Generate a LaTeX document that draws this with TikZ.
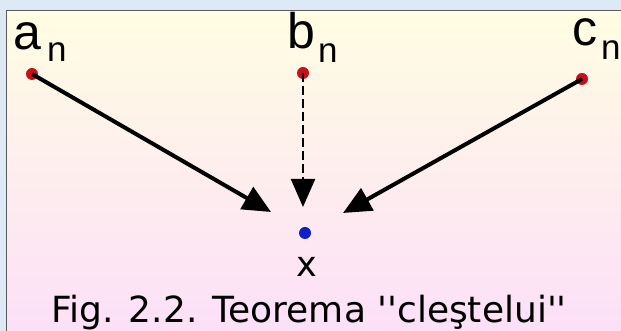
\documentclass[tikz,border=0pt]{standalone}
\usepackage{fontspec}
\setmainfont{Liberation Sans}
\newfontfamily\capfont{DejaVu Sans}
\usetikzlibrary{arrows.meta}
\definecolor{outerbg}{HTML}{DDE9F5}
\definecolor{topcol}{HTML}{FFFDE2}
\definecolor{botcol}{HTML}{FCDFF8}
\definecolor{framecol}{HTML}{5A5A5A}
\definecolor{reddot}{HTML}{C8101A}
\definecolor{bluedot}{HTML}{1020C8}
\tikzset{
  pt/.style={circle,inner sep=0pt,minimum size=12pt},
  redpt/.style={pt,fill=reddot},
  bluept/.style={pt,fill=bluedot},
  biglbl/.style={anchor=base west,inner sep=0pt,font=\fontsize{50}{50}\selectfont},
  sublbl/.style={anchor=base west,inner sep=0pt,font=\fontsize{35}{35}\selectfont},
  conv/.style={line width=4pt,-{Triangle[length=28pt,width=25pt]}},
  convd/.style={line width=2.2pt,dash pattern=on 9pt off 4pt,-{Triangle[length=28pt,width=24pt]}}
}
\begin{document}
\begin{tikzpicture}[x=1pt,y=1pt]
\useasboundingbox (0,0) rectangle (621,331);
\fill[outerbg] (0,0) rectangle (621,331);
\shade[top color=topcol,bottom color=botcol] (6.5,-5) rectangle (630,320.5);
\draw[framecol,line width=1.6pt] (6.5,-5) -- (6.5,320.5) -- (630,320.5);
% points
\node[redpt] (an) at (32,257) {};
\node[redpt] (bn) at (303,258) {};
\node[redpt] (cn) at (582,252) {};
\node[bluept] (x) at (305,98) {};
% labels
\node[biglbl] (la) at (13,281) {a};
\node[sublbl] (lan) at (47,269) {n};
\node[biglbl] (lb) at (287,282) {b};
\node[sublbl] (lbn) at (318,268) {n};
\node[biglbl] (lc) at (572,285) {c};
\node[sublbl] (lcn) at (601,271) {n};
\node[anchor=base,inner sep=0pt,font=\capfont\fontsize{35}{35}\selectfont] (lx) at (306.5,54) {x};
\node[anchor=base,inner sep=0pt,font=\capfont\fontsize{36}{36}\selectfont] (cap) at (309,8) {Fig. 2.2. Teorema ''cleştelui''};
% arrow tips
\coordinate (ta) at (271,119);
\coordinate (tb) at (303,124);
\coordinate (tc) at (343,118);
\draw[conv] (an.center) -- (ta);
\draw[conv] (cn.center) -- (tc);
\draw[convd] (bn.center) -- (tb);
\end{tikzpicture}
\end{document}
